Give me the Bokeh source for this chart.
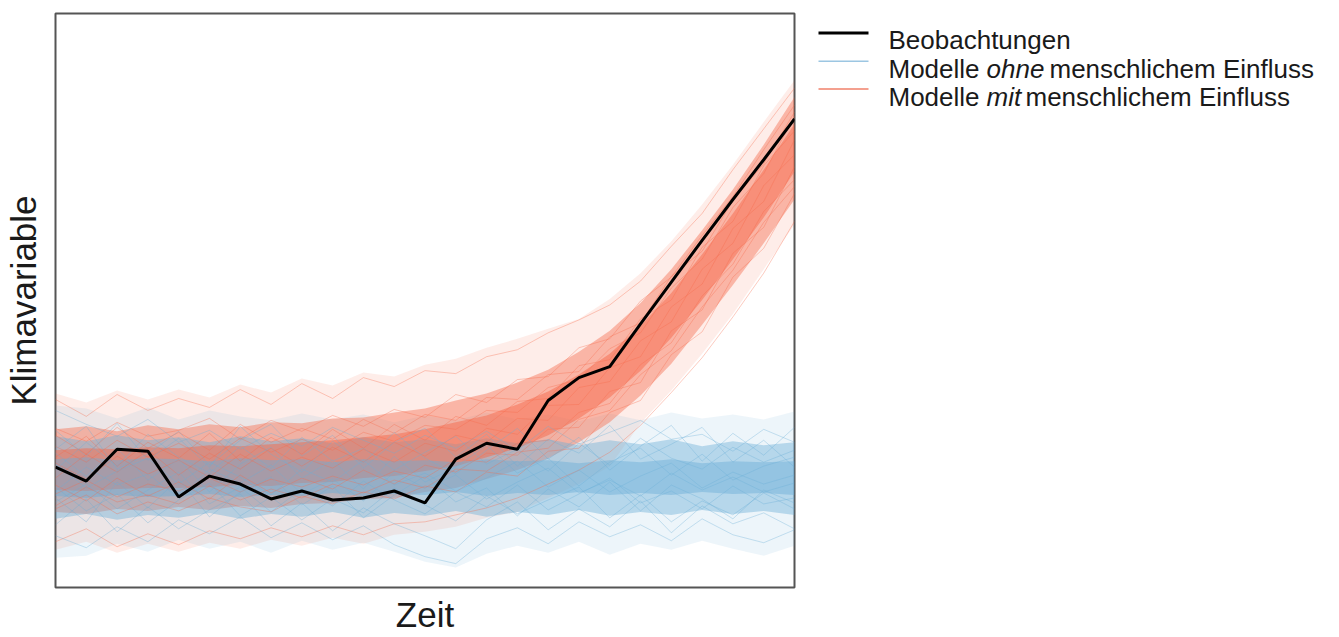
from bokeh.plotting import figure
from bokeh.models import Range1d, FixedTicker, ColumnDataSource
from bokeh.layouts import row
from bokeh.embed import file_html
from bokeh.resources import INLINE
from bokeh.core.properties import value

# ---------------- data (arbitrary units) ----------------
t = list(range(25))

beobachtungen = [12.1, 10.7, 13.9, 13.7, 9.1, 11.2, 10.4, 8.9, 9.7, 8.8, 9.0, 9.7, 8.5,
                 12.9, 14.5, 13.9, 18.8, 21.1, 22.2, 26.5, 30.7, 34.9, 39.0, 43.0, 47.1]

# ensemble without human influence (envelopes)
ohne_max = [18.3, 18.0, 17.0, 18.1, 16.9, 17.8, 17.2, 16.8, 17.5, 16.9, 17.4, 16.6, 17.3,
            16.8, 17.6, 16.9, 17.4, 16.7, 17.5, 16.8, 17.6, 17.0, 17.4, 16.9, 17.7]
ohne_p90 = [15.2, 14.7, 15.3, 14.8, 15.1, 14.6, 15.2, 14.7, 15.0, 14.5, 15.1, 14.6, 14.9,
            14.4, 15.0, 14.5, 14.9, 14.3, 14.8, 14.4, 14.9, 14.2, 14.7, 14.3, 14.6]
ohne_p75 = [12.9, 13.1, 12.8, 13.0, 12.9, 12.7, 13.0, 12.8, 12.9, 12.6, 12.9, 12.7, 12.8,
            12.6, 12.9, 12.7, 12.8, 12.5, 12.8, 12.6, 12.9, 12.5, 12.7, 12.6, 12.7]
ohne_p25 = [9.2, 9.0, 9.3, 9.1, 9.2, 9.4, 9.1, 9.3, 9.2, 9.5, 9.2, 9.4, 9.3,
            9.6, 9.2, 9.5, 9.3, 9.6, 9.3, 9.5, 9.3, 9.6, 9.4, 9.5, 9.3]
ohne_p10 = [6.9, 7.4, 6.8, 7.3, 7.0, 7.5, 6.9, 7.4, 7.1, 7.6, 7.0, 7.5, 7.2,
            7.7, 7.1, 7.6, 7.3, 7.8, 7.2, 7.6, 7.3, 7.8, 7.4, 7.7, 7.3]
ohne_min = [3.0, 3.2, 4.4, 3.6, 4.8, 3.9, 4.6, 3.5, 4.7, 3.8, 4.5, 3.6, 2.6,
            2.0, 3.4, 4.2, 3.5, 4.6, 3.3, 4.4, 3.8, 4.7, 3.9, 3.2, 4.2]

# ensemble with human influence (envelopes)
mit_max = [19.5, 18.6, 19.8, 18.9, 19.9, 19.1, 20.4, 19.6, 21.0, 20.3, 21.6, 21.2, 22.4,
           23.0, 24.1, 25.0, 26.0, 27.0, 29.0, 31.6, 34.8, 38.5, 42.5, 46.8, 51.0]
mit_p90 = [15.9, 16.2, 15.7, 16.3, 15.9, 16.4, 16.1, 16.6, 16.5, 17.0, 17.1, 17.6, 18.0,
           18.8, 19.5, 20.6, 21.9, 23.7, 25.8, 28.6, 32.0, 35.9, 40.0, 44.5, 49.3]
mit_p75 = [13.8, 14.0, 13.9, 14.1, 14.0, 14.3, 14.2, 14.4, 14.6, 14.8, 15.1, 15.4, 15.9,
           16.6, 17.3, 18.4, 19.7, 21.4, 23.5, 26.3, 29.6, 33.5, 37.6, 42.0, 46.6]
mit_p25 = [9.8, 9.7, 9.9, 10.0, 10.0, 10.1, 10.3, 10.2, 10.5, 10.6, 11.0, 11.2, 11.7,
           12.2, 13.1, 14.0, 15.3, 17.0, 19.1, 21.8, 25.1, 28.9, 33.0, 37.2, 41.8]
mit_p10 = [7.6, 7.4, 7.9, 7.7, 8.1, 7.8, 8.2, 8.0, 8.4, 8.5, 8.9, 9.0, 9.6,
           10.0, 10.9, 11.8, 13.0, 14.6, 16.6, 19.3, 22.5, 26.4, 30.4, 34.6, 39.0]
mit_min = [3.8, 4.6, 3.5, 4.4, 3.6, 4.5, 3.9, 4.8, 4.2, 5.0, 4.4, 5.3, 5.6,
           6.1, 7.0, 7.6, 9.0, 10.4, 12.2, 16.5, 19.8, 23.5, 27.5, 32.0, 36.5]

# individual model runs
ohne_runs = [
    [13.5, 11.2, 14.0, 10.8, 12.9, 9.6, 12.4, 14.1, 11.0, 12.8, 9.9, 13.2, 10.6, 12.1, 14.3, 11.5, 13.0, 10.2, 12.6, 14.0, 11.3, 13.4, 10.8, 12.2, 13.1],
    [8.6, 10.4, 7.9, 9.8, 11.6, 8.4, 10.1, 7.6, 9.9, 8.2, 10.7, 8.8, 7.4, 9.6, 8.1, 10.3, 7.8, 9.4, 11.0, 8.5, 9.7, 7.9, 10.2, 8.4, 9.0],
    [11.8, 14.6, 12.2, 15.4, 13.1, 11.5, 14.2, 12.0, 15.1, 12.7, 14.0, 11.8, 13.6, 15.2, 12.4, 13.9, 11.7, 14.5, 12.3, 15.0, 13.0, 11.9, 14.1, 12.6, 13.8],
    [10.1, 7.7, 9.4, 6.5, 8.8, 10.5, 7.2, 9.1, 6.8, 8.9, 7.5, 10.0, 8.3, 6.7, 9.2, 7.4, 8.8, 10.1, 7.0, 9.3, 6.6, 8.7, 7.3, 9.5, 7.9],
    [17.8, 16.4, 15.2, 16.9, 14.6, 15.8, 13.9, 15.5, 14.2, 16.1, 14.8, 13.5, 15.3, 14.0, 15.7, 13.8, 16.2, 14.4, 15.6, 16.8, 14.9, 15.4, 13.7, 15.9, 14.6],
    [5.2, 4.0, 6.1, 4.6, 6.8, 5.4, 7.1, 5.0, 6.5, 4.8, 6.2, 4.3, 3.1, 2.4, 4.9, 6.0, 4.4, 6.6, 5.1, 6.3, 4.7, 6.9, 5.3, 4.5, 5.8],
    [12.4, 10.0, 11.7, 13.0, 10.4, 12.6, 11.1, 9.3, 11.9, 10.6, 12.8, 10.3, 11.5, 9.7, 11.0, 12.7, 10.1, 11.8, 9.6, 11.2, 12.5, 10.0, 11.6, 10.4, 11.3],
    [9.7, 12.1, 10.3, 11.4, 9.0, 11.9, 10.5, 12.3, 9.4, 10.9, 8.7, 11.6, 10.0, 11.3, 8.9, 10.6, 12.0, 9.5, 10.8, 9.2, 11.5, 9.8, 11.1, 9.6, 10.5],
    [15.8, 13.2, 16.5, 12.8, 15.0, 12.1, 16.2, 13.4, 11.6, 14.7, 12.5, 15.6, 13.0, 11.4, 13.8, 16.0, 12.9, 15.1, 11.8, 14.2, 16.3, 12.7, 15.5, 13.3, 16.1],
    [6.3, 8.9, 5.6, 8.1, 5.9, 7.8, 9.4, 6.2, 8.5, 5.7, 8.0, 6.4, 5.2, 3.9, 6.8, 8.6, 5.8, 7.9, 6.1, 8.7, 5.5, 8.2, 6.4, 7.5, 5.9],
    [13.9, 16.2, 11.9, 13.4, 15.7, 12.3, 14.8, 16.4, 13.2, 15.3, 12.0, 14.6, 16.0, 13.1, 15.4, 12.2, 14.9, 13.5, 16.3, 12.9, 14.4, 16.1, 12.6, 14.8, 12.1],
    [9.0, 6.6, 10.6, 8.0, 10.9, 7.1, 9.6, 11.1, 8.3, 10.2, 7.0, 9.3, 11.2, 8.6, 10.0, 7.2, 9.9, 8.1, 10.6, 7.7, 10.3, 8.9, 6.9, 9.8, 8.5],
]
mit_runs = [
    [14.2, 12.6, 14.8, 13.1, 14.5, 12.9, 15.0, 13.6, 14.9, 13.8, 15.6, 14.7, 16.3, 15.9, 17.8, 17.6, 20.1, 20.9, 24.0, 25.6, 30.1, 33.0, 38.2, 41.6, 47.4],
    [9.4, 10.8, 9.1, 10.4, 9.7, 11.0, 9.6, 10.9, 10.1, 11.2, 10.3, 11.7, 11.0, 12.9, 12.6, 14.5, 14.8, 17.6, 18.5, 22.4, 24.6, 29.3, 32.5, 37.8, 41.0],
    [16.0, 14.7, 16.6, 15.2, 15.8, 17.0, 14.9, 16.8, 15.7, 17.3, 16.2, 17.9, 17.1, 19.4, 18.6, 20.9, 21.2, 24.1, 25.0, 28.8, 31.2, 35.4, 39.3, 44.0, 48.5],
    [7.9, 9.3, 7.4, 8.6, 7.7, 9.0, 8.1, 7.6, 9.2, 8.4, 9.6, 8.9, 10.2, 9.6, 11.6, 11.2, 13.7, 14.0, 17.6, 18.8, 23.4, 25.7, 31.2, 34.1, 39.6],
    [12.5, 10.9, 13.2, 11.4, 12.8, 11.1, 13.4, 11.7, 13.1, 12.0, 13.9, 12.6, 14.5, 13.7, 16.0, 15.4, 18.3, 18.4, 22.1, 23.2, 28.2, 30.5, 36.1, 38.8, 45.0],
    [18.9, 17.2, 19.4, 17.8, 19.0, 18.1, 19.9, 18.4, 20.5, 19.0, 21.1, 20.2, 21.8, 21.5, 23.2, 23.9, 25.6, 26.9, 28.4, 30.8, 34.3, 37.6, 42.0, 46.1, 50.2],
    [4.6, 5.9, 4.1, 5.4, 4.3, 5.7, 4.9, 6.0, 5.1, 6.2, 5.3, 6.4, 6.6, 7.3, 8.0, 9.0, 10.4, 11.8, 13.6, 16.3, 19.6, 23.1, 27.2, 31.6, 36.8],
    [11.0, 13.4, 11.6, 13.8, 11.3, 13.5, 11.9, 14.0, 12.2, 14.1, 12.6, 14.6, 13.2, 15.3, 14.6, 17.0, 16.8, 20.1, 20.7, 24.8, 26.7, 32.0, 34.6, 40.4, 43.5],
    [15.3, 13.4, 16.1, 14.0, 15.6, 13.8, 16.4, 14.6, 16.0, 14.9, 16.9, 15.5, 17.4, 16.8, 19.1, 18.9, 21.4, 21.7, 25.2, 26.6, 31.3, 33.8, 38.9, 42.6, 47.8],
    [8.2, 10.1, 8.6, 9.3, 8.4, 10.2, 8.8, 9.9, 9.0, 10.4, 9.5, 10.8, 10.0, 11.9, 11.7, 13.6, 14.0, 16.9, 17.8, 21.4, 23.8, 28.2, 31.9, 36.7, 40.3],
    [13.1, 15.2, 12.2, 14.6, 13.0, 15.5, 12.7, 15.1, 13.4, 15.9, 14.0, 16.4, 14.8, 17.2, 16.3, 18.7, 19.0, 22.3, 22.9, 27.0, 28.9, 34.2, 36.8, 42.4, 45.9],
    [10.3, 8.7, 11.0, 9.2, 10.6, 8.9, 11.3, 9.5, 11.0, 9.9, 11.8, 10.4, 12.3, 11.6, 13.5, 13.3, 15.9, 16.1, 19.7, 20.6, 25.8, 27.9, 33.6, 36.2, 42.3],
]

x_label = "Zeit"
y_label = "Klimavariable"
legend_obs = "Beobachtungen"
legend_word = "Modelle"
legend_ohne = "ohne"
legend_mit = "mit"
legend_rest = "menschlichem Einfluss"

BLUE = "#6BAED6"
RED = "#F66A4B"
FONT = "Liberation Sans"
TXT = "#1a1a1a"
H = 636
FRAME_TOP, FRAME_BOTTOM = 13, 590

# ---------------- main plot ----------------
p = figure(width=808, height=H, x_range=Range1d(0, 24), y_range=Range1d(0, 57.7),
           output_backend="svg", toolbar_location=None,
           min_border_left=52, min_border_right=14, min_border_top=FRAME_TOP,
           min_border_bottom=H - FRAME_BOTTOM)
p.background_fill_color = "white"
p.border_fill_color = "white"
p.grid.visible = False
p.outline_line_color = "#555555"
p.outline_line_width = 2

for ax, lab, so in ((p.xaxis, x_label, 7), (p.yaxis, y_label, 13)):
    ax.ticker = FixedTicker(ticks=[])
    ax.major_tick_line_color = None
    ax.minor_tick_line_color = None
    ax.major_tick_out = 0
    ax.major_label_standoff = 0
    ax.major_label_text_font_size = "0px"
    ax.axis_line_color = None
    ax.axis_label = lab
    ax.axis_label_text_font = FONT
    ax.axis_label_text_font_size = "35px"
    ax.axis_label_text_font_style = "normal"
    ax.axis_label_text_color = TXT
    ax.axis_label_standoff = so

src = ColumnDataSource(dict(
    t=t, ohne_max=ohne_max, ohne_p90=ohne_p90, ohne_p75=ohne_p75, ohne_p25=ohne_p25,
    ohne_p10=ohne_p10, ohne_min=ohne_min, mit_max=mit_max, mit_p90=mit_p90,
    mit_p75=mit_p75, mit_p25=mit_p25, mit_p10=mit_p10, mit_min=mit_min,
    obs=beobachtungen))

# envelopes, interleaved
p.varea(x="t", y1="mit_min", y2="mit_max", source=src, fill_color=RED, fill_alpha=0.12)
p.varea(x="t", y1="ohne_min", y2="ohne_max", source=src, fill_color=BLUE, fill_alpha=0.12)
p.varea(x="t", y1="mit_p10", y2="mit_p90", source=src, fill_color=RED, fill_alpha=0.42)
p.varea(x="t", y1="ohne_p10", y2="ohne_p90", source=src, fill_color=BLUE, fill_alpha=0.42)
p.varea(x="t", y1="mit_p25", y2="mit_p75", source=src, fill_color=RED, fill_alpha=0.5)
p.varea(x="t", y1="ohne_p25", y2="ohne_p75", source=src, fill_color=BLUE, fill_alpha=0.45)

# individual runs
p.multi_line(xs=[t] * len(mit_runs), ys=mit_runs, line_color=RED, line_alpha=0.35, line_width=1)
p.multi_line(xs=[t] * len(ohne_runs), ys=ohne_runs, line_color=BLUE, line_alpha=0.35, line_width=1)

# observations
p.line(x="t", y="obs", source=src, line_color="black", line_width=3)

# ---------------- legend panel (page-pixel coordinates) ----------------
# in a row, Bokeh aligns the frames, so the legend frame spans FRAME_TOP..FRAME_BOTTOM
LW = 525
leg = figure(width=LW, height=H, x_range=Range1d(808, 808 + LW),
             y_range=Range1d(FRAME_BOTTOM, FRAME_TOP),
             output_backend="svg", toolbar_location=None, min_border=0)
leg.axis.visible = False
leg.grid.visible = False
leg.outline_line_color = None
leg.background_fill_color = "white"
leg.border_fill_color = "white"

leg.line(x=[818, 868], y=[32.5, 32.5], line_color="black", line_width=3)
leg.line(x=[818, 868], y=[61, 61], line_color="#9cc6e2", line_width=1.5)
leg.line(x=[818, 868], y=[89, 89], line_color="#f0806a", line_width=1.5)

common = dict(text_font=value(FONT), text_font_size="26px", text_color=TXT,
              text_baseline="alphabetic", text_align="left")
leg.text(x=[888], y=[40], text=[legend_obs], **common)
leg.text(x=[888, 888], y=[68.5, 97], text=[legend_word, legend_word], **common)
leg.text(x=[986], y=[68.5], text=[legend_ohne], text_font_style="italic", **common)
leg.text(x=[986], y=[97], text=[legend_mit], text_font_style="italic", **common)
leg.text(x=[1049, 1025], y=[68.5, 97], text=[legend_rest, legend_rest], **common)

layout = row(p, leg)
open("out.html", "w").write(file_html(layout, INLINE))
